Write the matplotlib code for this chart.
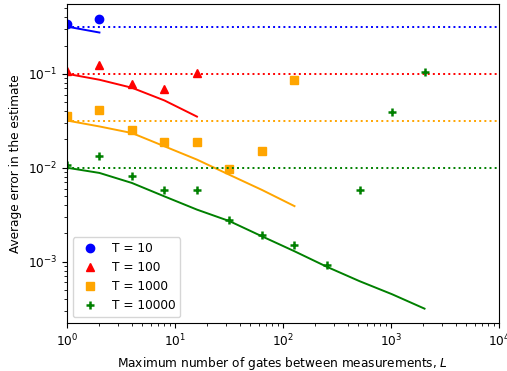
import numpy as np
from matplotlib import pyplot as plt

plt.rcParams['font.size'] = 8.75

# measured points (scatter)
L_pts = [1, 2, 4, 8, 16, 32, 64, 128, 256, 512, 1024, 2048]
err_T10 = [0.34, 0.387]
err_T100 = [0.108, 0.125, 0.078, 0.069, 0.103]
err_T1000 = [0.0357, 0.0414, 0.0254, 0.0186, 0.0188, 0.0097, 0.0149, 0.085]
err_T10000 = [0.0108, 0.0132, 0.00808, 0.00574, 0.00574, 0.0028, 0.0019,
              0.00152, 0.00091, 0.0058, 0.039, 0.104]

# predicted curves
pred_T10 = [0.318, 0.275]
pred_T100 = [0.1, 0.0864, 0.071, 0.052, 0.035]
pred_T1000 = [0.0318, 0.0275, 0.0234, 0.0169, 0.0122, 0.0084, 0.0058, 0.0039]
pred_T10000 = [0.01, 0.0088, 0.00688, 0.00495, 0.00358, 0.0027, 0.00186,
               0.00129, 0.00088, 0.00062, 0.00045, 0.000316]

T_vals = [10, 100, 1000, 10000]
colors = ['blue', 'red', 'orange', 'green']
markers = ['o', '^', 's', '+']
meas = [err_T10, err_T100, err_T1000, err_T10000]
preds = [pred_T10, pred_T100, pred_T1000, pred_T10000]

fig = plt.figure(figsize=(5.07, 3.71), dpi=100)
ax = fig.add_axes([0.132, 0.129, 0.852, 0.860])

for T, c, m, e, p in zip(T_vals, colors, markers, meas, preds):
    n = len(e)
    ax.plot(L_pts[:len(p)], p, color=c, linewidth=1.4)
    ax.axhline(1 / np.sqrt(T), color=c, linestyle=':', linewidth=1.4)
    if m == '+':
        ax.plot(L_pts[:n], e, linestyle='none', marker=m, color=c,
                markersize=6, markeredgewidth=1.8, label="T = %d" % T)
    else:
        ax.plot(L_pts[:n], e, linestyle='none', marker=m, color=c,
                markersize=6, label="T = %d" % T)

ax.set_xscale('log')
ax.set_yscale('log')
ax.set_xlim(1, 1e4)
ax.set_xlabel("Maximum number of gates between measurements, $L$")
ax.set_ylabel("Average error in the estimate")
ax.legend(loc='lower left')

fig.savefig('out.png', dpi=100)
